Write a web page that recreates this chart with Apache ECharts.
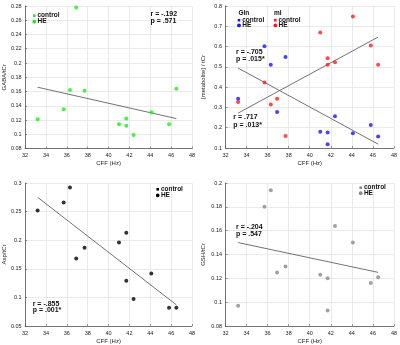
<!DOCTYPE html>
<html><head><meta charset="utf-8">
<script src="https://cdn.jsdelivr.net/npm/echarts@6/dist/echarts.min.js"></script>
<style>html,body{margin:0;padding:0;background:#fff}#c{width:400px;height:345px}</style>
</head><body><div id="c"></div>
<script>
const cff   = [33.2, 35.7, 36.3, 36.9, 37.7, 41.0, 41.7, 41.7, 42.4, 44.1, 45.8, 46.5];
const gaba  = [0.121, 0.135, 0.162, 0.278, 0.161, 0.114, 0.122, 0.112, 0.099, 0.131, 0.114, 0.164];
const gln   = [0.343, 0.601, 0.510, 0.278, 0.549, 0.180, 0.177, 0.119, 0.257, 0.173, 0.213, 0.157];
const mi    = [0.327, 0.423, 0.315, 0.343, 0.159, 0.669, 0.542, 0.511, 0.523, 0.748, 0.605, 0.511];
const asp   = [0.252, 0.266, 0.292, 0.168, 0.187, 0.196, 0.213, 0.129, 0.097, 0.142, 0.082, 0.082];
const gsh   = [0.097, 0.180, 0.194, 0.125, 0.130, 0.123, 0.120, 0.093, 0.164, 0.150, 0.116, 0.121];
const fitX    = [33.2, 46.5];
const gabaFit = [0.166, 0.122];
const glnFit  = [0.494, 0.119];
const miFit   = [0.272, 0.647];
const aspFit  = [0.275, 0.087];
const gshFit  = [0.150, 0.125];
const xName = 'CFF (Hz)';
const yNames = ['GABA/tCr', '[metabolite] / tCr', 'Asp/tCr', 'GSH/tCr'];
const yRanges = [[0.08, 0.28, 0.02], [0.1, 0.8, 0.1], [0.05, 0.3, 0.05], [0.08, 0.2, 0.02]];
const stats = [['r = -.192', 'p = .571'], ['r = -.705', 'p = .015*'], ['r = .717', 'p = .013*'], ['r = -.855', 'p = .001*'], ['r = -.204', 'p = .547']];

const FF = 'Liberation Sans, Arial, sans-serif';
const GREEN = '#19ee19', BLUE = '#1515ff', RED = '#ff1a1a', BLACK = '#000000', GRAY = '#8a8a8a';

const grids = [
  {left: 23, top: 6, width: 169, height: 142.5},
  {left: 225.5, top: 6, width: 170.5, height: 142},
  {left: 23, top: 183, width: 169, height: 143},
  {left: 225.5, top: 183, width: 171, height: 143}
];
const yGaps = [16, 19, 16, 19];

const xAxes = grids.map((g, i) => ({
  type: 'value', gridIndex: i, min: 32, max: 48, interval: 2,
  name: xName, nameLocation: 'middle', nameGap: 12,
  nameTextStyle: {fontSize: 6, color: '#222', fontFamily: FF},
  axisLine: {show: true, lineStyle: {color: '#555', width: 0.8}},
  axisTick: {show: true, inside: true, length: 2, lineStyle: {color: '#555', width: 0.6}},
  axisLabel: {fontSize: 5.5, color: '#222', margin: 4, fontFamily: FF},
  splitLine: {show: true, lineStyle: {color: '#e4e4e4', width: 0.8}}
}));
const yAxes = grids.map((g, i) => ({
  type: 'value', gridIndex: i, min: yRanges[i][0], max: yRanges[i][1], interval: yRanges[i][2],
  name: yNames[i], nameLocation: 'middle', nameGap: yGaps[i],
  nameTextStyle: {fontSize: 6, color: '#222', fontFamily: FF},
  axisLine: {show: true, lineStyle: {color: '#555', width: 0.8}},
  axisTick: {show: true, inside: true, length: 2, lineStyle: {color: '#555', width: 0.6}},
  axisLabel: {fontSize: 5.5, color: '#222', margin: 3.5, fontFamily: FF},
  splitLine: {show: true, lineStyle: {color: '#e4e4e4', width: 0.8}}
}));

function pts(ys) { return cff.map((x, i) => [x, ys[i]]); }
function fit(ys) { return fitX.map((x, i) => [x, ys[i]]); }
function scatter(ys, idx, color) {
  return {type: 'scatter', xAxisIndex: idx, yAxisIndex: idx, data: pts(ys), symbolSize: 4,
    itemStyle: {color: color}, silent: true, z: 3};
}
function line(ys, idx) {
  return {type: 'line', xAxisIndex: idx, yAxisIndex: idx, data: fit(ys), showSymbol: false,
    lineStyle: {color: '#626262', width: 0.9}, silent: true, z: 2, animation: false};
}

const series = [
  line(gabaFit, 0), scatter(gaba, 0, GREEN),
  line(glnFit, 1), line(miFit, 1), scatter(gln, 1, BLUE), scatter(mi, 1, RED),
  line(aspFit, 2), scatter(asp, 2, BLACK),
  line(gshFit, 3), scatter(gsh, 3, GRAY)
];

const LF = 'bold 6.5px ' + FF;
const AF = 'bold 7px ' + FF;
function txt(t, x, y, fill, font) {
  return {type: 'text', x: x, y: y, silent: true, z: 10,
    style: {text: t, fill: fill || '#111', font: font || AF, align: 'left', verticalAlign: 'middle'}};
}
function legend(x, y, dy, color) {
  return [
    {type: 'rect', shape: {x: x - 1.3, y: y - 1.3, width: 2.6, height: 2.6}, style: {fill: color}, silent: true, z: 10},
    txt('control', x + 3.2, y, '#111', LF),
    {type: 'circle', shape: {cx: x, cy: y + dy, r: 1.9}, style: {fill: color}, silent: true, z: 10},
    txt('HE', x + 3.2, y + dy, '#111', LF)
  ];
}

const graphic = [].concat(
  legend(34.3, 15.7, 6, GREEN),
  [txt(stats[0][0], 150.5, 14), txt(stats[0][1], 150.5, 20.8)],
  [txt('Gln', 238.5, 13.3, '#111', LF), txt('mI', 274, 13.3, '#111', LF)],
  legend(239, 20.2, 5.2, BLUE),
  legend(275.3, 20.2, 5.2, RED),
  [txt(stats[1][0], 236, 52), txt(stats[1][1], 236, 59.2)],
  [txt(stats[2][0], 233.3, 117.3), txt(stats[2][1], 233.3, 125)],
  legend(157.7, 189.3, 6, BLACK),
  [txt(stats[3][0], 32.7, 304.3), txt(stats[3][1], 32.7, 310.5)],
  legend(360.7, 187.7, 5.5, GRAY),
  [txt(stats[4][0], 236, 227), txt(stats[4][1], 236, 233.8)]
);

const chart = echarts.init(document.getElementById('c'), null, {renderer: 'canvas'});
chart.setOption({
  animation: false,
  backgroundColor: '#fff',
  textStyle: {fontFamily: FF},
  grid: grids,
  xAxis: xAxes,
  yAxis: yAxes,
  series: series,
  graphic: graphic
});
</script></body></html>
